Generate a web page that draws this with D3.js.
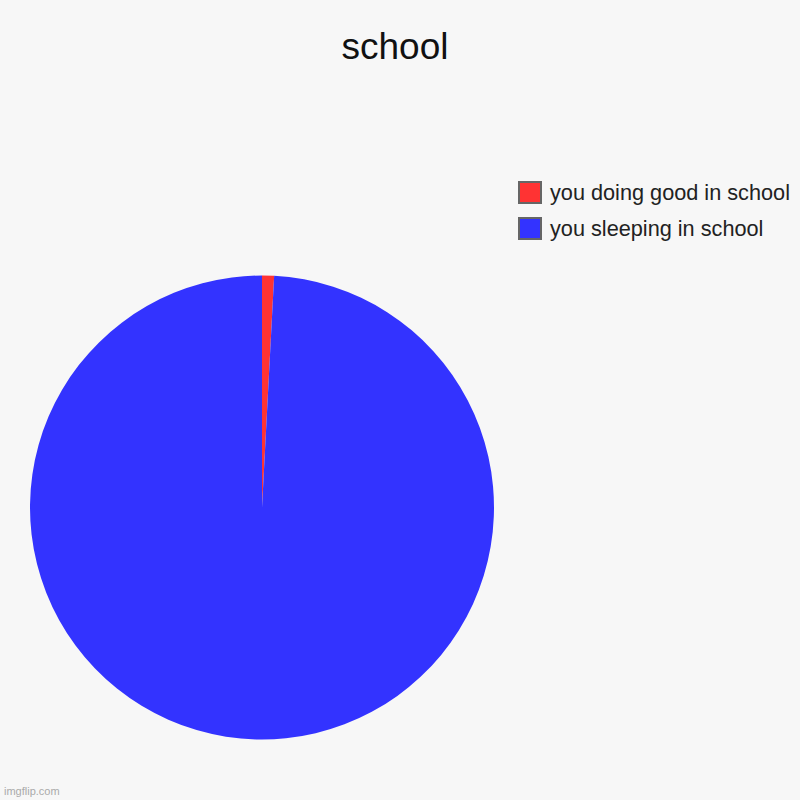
<!DOCTYPE html>
<html>
<head>
<meta charset="utf-8">
<script src="https://cdn.jsdelivr.net/npm/d3@7"></script>
<style>
  html, body { margin: 0; padding: 0; background: #f7f7f7; }
  svg { display: block; font-family: "Liberation Sans", Arial, sans-serif; }
</style>
</head>
<body>
<svg id="chart" width="800" height="800"></svg>
<script>
// Data
let labels = ["you doing good in school", "you sleeping in school"];
let values = [1, 119];
let sliceColors = ["#ff3333", "#3333ff"];

let svg = d3.select("#chart");

// Background
svg.append("rect")
  .attr("width", 800)
  .attr("height", 800)
  .attr("fill", "#f7f7f7");

// Title
svg.append("text")
  .attr("x", 395)
  .attr("y", 59)
  .attr("text-anchor", "middle")
  .style("font-size", "37px")
  .style("fill", "#111")
  .text("school");

// Pie
let pie = d3.pie().sort(null).value(d => d);
let arc = d3.arc().innerRadius(0).outerRadius(232);

let g = svg.append("g")
  .attr("transform", "translate(262,507.5)");

g.selectAll("path")
  .data(pie(values))
  .enter()
  .append("path")
  .attr("d", arc)
  .attr("fill", (d, i) => sliceColors[i]);

// Legend
let legend = svg.append("g")
  .attr("transform", "translate(519,182)");

labels.forEach((label, i) => {
  let row = legend.append("g")
    .attr("transform", "translate(0," + (i * 36) + ")");
  row.append("rect")
    .attr("width", 22)
    .attr("height", 21)
    .attr("fill", sliceColors[i])
    .attr("stroke", "#666")
    .attr("stroke-width", 2);
  row.append("text")
    .attr("x", 31)
    .attr("y", 18)
    .style("font-size", "21.7px")
    .style("fill", "#222")
    .text(label);
});

// Watermark
svg.append("text")
  .attr("x", 4)
  .attr("y", 795)
  .style("font-size", "11px")
  .style("fill", "#aaa")
  .text("imgflip.com");
</script>
</body>
</html>
